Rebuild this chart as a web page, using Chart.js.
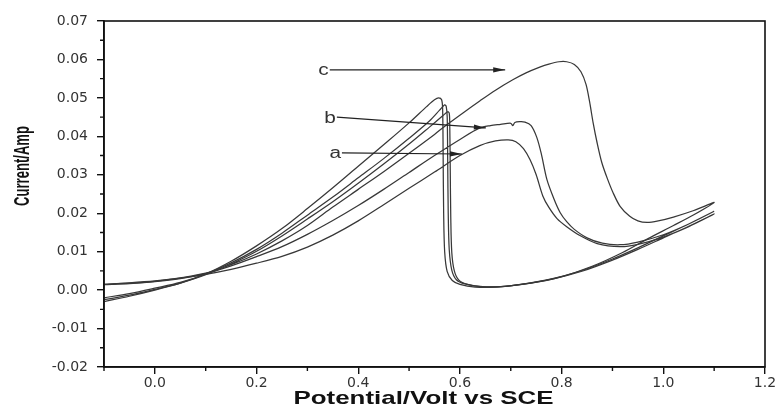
<!DOCTYPE html>
<html>
<head>
<meta charset="utf-8">
<script src="https://cdn.jsdelivr.net/npm/chart.js@4/dist/chart.umd.min.js"></script>
<style>
html,body{margin:0;padding:0;background:#fff;}
#wrap{width:779px;height:406px;}
</style>
</head>
<body>
<div id="wrap"><canvas id="cv" width="779" height="406"></canvas></div>
<script>
// ---- tick values ----
const potentialTicks = [0.0, 0.2, 0.4, 0.6, 0.8, 1.0, 1.2];
const potentialMinor = [-0.1, 0.1, 0.3, 0.5, 0.7, 0.9, 1.1];
const currentTicks = [-0.02, -0.01, 0.00, 0.01, 0.02, 0.03, 0.04, 0.05, 0.06, 0.07];
const currentMinor = [-0.015, -0.005, 0.005, 0.015, 0.025, 0.035, 0.045, 0.055, 0.065];

// ---- curve a (forward scan then reverse scan) ----
const aPotential = [-0.1,-0.05,0,0.05,0.1,0.15,0.2,0.25,0.3,0.35,0.4,0.45,0.5,0.535,0.55,0.558,0.564,0.566,0.567,0.568,0.57,0.575,0.585,0.6,0.63,0.67,0.72,0.78,0.84,0.9,0.95,1.0,1.05,1.1,
  1.05,1.0,0.95,0.915,0.87,0.836,0.81,0.791,0.775,0.763,0.75,0.738,0.725,0.71,0.695,0.67,0.639,0.6,0.55,0.5,0.45,0.4,0.35,0.3,0.25,0.2,0.15,0.1,0.05,0,-0.05,-0.1];
const aCurrent = [-0.0025,-0.0013,0.0002,0.0018,0.0042,0.0075,0.0115,0.016,0.0212,0.0266,0.0322,0.0378,0.0435,0.0478,0.0495,0.0500,0.0495,0.047,0.035,0.02,0.01,0.0048,0.0025,0.0015,0.0008,0.0008,0.0015,0.0028,0.0049,0.0078,0.0106,0.0136,0.0166,0.0198,
  0.0165,0.0138,0.0119,0.0113,0.0121,0.0142,0.0165,0.0186,0.0215,0.0245,0.030,0.0339,0.0368,0.0386,0.0391,0.0388,0.0376,0.0350,0.0307,0.0265,0.0222,0.018,0.0143,0.0112,0.0088,0.007,0.0054,0.0041,0.0031,0.0024,0.0019,0.0015];

// ---- curve b ----
const bPotential = [-0.1,-0.05,0,0.05,0.1,0.15,0.2,0.25,0.3,0.35,0.4,0.45,0.5,0.54,0.56,0.57,0.573,0.575,0.576,0.577,0.579,0.584,0.593,0.61,0.64,0.68,0.72,0.78,0.84,0.9,0.95,1.0,1.05,1.1,
  1.05,1.0,0.95,0.915,0.88,0.85,0.825,0.81,0.797,0.785,0.771,0.76,0.751,0.74,0.728,0.718,0.708,0.704,0.7,0.68,0.66,0.639,0.6,0.55,0.5,0.45,0.4,0.35,0.3,0.25,0.2,0.15,0.1,0.05,0,-0.05,-0.1];
const bCurrent = [-0.002,-0.0009,0.0005,0.002,0.0042,0.0071,0.0106,0.0148,0.0195,0.0242,0.0292,0.0342,0.0395,0.044,0.0468,0.0482,0.0478,0.045,0.033,0.02,0.0105,0.0052,0.0027,0.0016,0.0009,0.0009,0.0015,0.0029,0.0051,0.0081,0.011,0.0141,0.0172,0.0205,
  0.0172,0.0144,0.0125,0.0118,0.0122,0.0136,0.0158,0.0178,0.0202,0.0237,0.0288,0.0355,0.0398,0.0428,0.0437,0.0438,0.0436,0.0428,0.0434,0.0431,0.0428,0.0422,0.0392,0.035,0.0306,0.0262,0.022,0.0181,0.0145,0.0113,0.0087,0.0063,0.0043,0.003,0.0022,0.0017,0.0014];

// ---- curve c ----
const cPotential = [-0.1,-0.05,0,0.05,0.1,0.15,0.2,0.25,0.3,0.35,0.4,0.45,0.5,0.54,0.565,0.576,0.579,0.58,0.581,0.582,0.584,0.589,0.598,0.615,0.645,0.69,0.74,0.8,0.86,0.92,0.97,1.02,1.06,1.1,
  1.06,1.02,0.99,0.968,0.95,0.934,0.915,0.901,0.89,0.879,0.87,0.862,0.855,0.848,0.838,0.825,0.81,0.795,0.775,0.757,0.73,0.704,0.67,0.639,0.606,0.574,0.55,0.5,0.45,0.4,0.35,0.3,0.25,0.2,0.15,0.1,0.05,0,-0.05,-0.1];
const cCurrent = [-0.003,-0.0016,0.0,0.0018,0.004,0.0068,0.0101,0.0141,0.0185,0.023,0.0278,0.0328,0.038,0.0424,0.0452,0.0464,0.046,0.043,0.031,0.019,0.0098,0.005,0.0026,0.0015,0.0009,0.001,0.0018,0.0035,0.0062,0.0098,0.0134,0.0168,0.0196,0.0228,
  0.0207,0.019,0.018,0.0176,0.018,0.0192,0.0218,0.0254,0.029,0.0332,0.0382,0.0435,0.049,0.0535,0.0568,0.0587,0.0594,0.0594,0.0588,0.058,0.0565,0.0547,0.052,0.0492,0.0461,0.043,0.0405,0.0356,0.0308,0.0262,0.0216,0.0168,0.0128,0.0094,0.0066,0.0044,0.0032,0.0023,0.0018,0.0015];

// ---- arrow annotations (data coordinates) ----
const arrowNames = ['a', 'b', 'c'];
const arrowFromX = [0.368, 0.358, 0.344];
const arrowFromY = [0.0357, 0.0450, 0.0573];
const arrowToX = [0.604, 0.651, 0.689];
const arrowToY = [0.0354, 0.0422, 0.0573];

const xTitle = 'Potential/Volt vs SCE';
const yTitle = 'Current/Amp';

function pts(xs, ys) { return xs.map((x, i) => ({ x: x, y: ys[i] })); }

const lineStyle = { showLine: true, pointRadius: 0, borderColor: '#383838', borderWidth: 1.25, tension: 0.3, fill: false };

const decor = {
  id: 'decor',
  afterDatasetsDraw(chart) {
    const ctx = chart.ctx, ca = chart.chartArea, xs = chart.scales.x, ys = chart.scales.y;
    ctx.save();
    // frame
    ctx.strokeStyle = '#111';
    ctx.lineWidth = 1.6;
    ctx.strokeRect(ca.left, ca.top, ca.right - ca.left, ca.bottom - ca.top);
    // minor ticks
    ctx.lineWidth = 1.4;
    ctx.beginPath();
    potentialMinor.forEach(v => { const p = xs.getPixelForValue(v); ctx.moveTo(p, ca.bottom); ctx.lineTo(p, ca.bottom + 4); });
    currentMinor.forEach(v => { const p = ys.getPixelForValue(v); ctx.moveTo(ca.left, p); ctx.lineTo(ca.left - 4, p); });
    ctx.stroke();
    // arrows + labels
    ctx.strokeStyle = '#222';
    ctx.fillStyle = '#222';
    ctx.lineWidth = 1.2;
    arrowNames.forEach((name, i) => {
      const x1 = xs.getPixelForValue(arrowFromX[i]), y1 = ys.getPixelForValue(arrowFromY[i]);
      const x2 = xs.getPixelForValue(arrowToX[i]), y2 = ys.getPixelForValue(arrowToY[i]);
      ctx.beginPath(); ctx.moveTo(x1, y1); ctx.lineTo(x2, y2); ctx.stroke();
      const ang = Math.atan2(y2 - y1, x2 - x1), L = 12, W = 2.6;
      ctx.beginPath();
      ctx.moveTo(x2, y2);
      ctx.lineTo(x2 - L * Math.cos(ang) + W * Math.sin(ang), y2 - L * Math.sin(ang) - W * Math.cos(ang));
      ctx.lineTo(x2 - L * Math.cos(ang) - W * Math.sin(ang), y2 - L * Math.sin(ang) + W * Math.cos(ang));
      ctx.closePath(); ctx.fill();
      ctx.save();
      ctx.fillStyle = '#333';
      ctx.font = '16px "Liberation Sans", Arial, sans-serif';
      ctx.textAlign = 'right';
      ctx.textBaseline = 'middle';
      ctx.translate(x1 - 1, y1 + 1);
      ctx.scale(1.3, 1);
      ctx.fillText(name, 0, 0);
      ctx.restore();
    });
    // x title (stretched bold)
    ctx.fillStyle = '#111';
    ctx.font = 'bold 19px "Liberation Sans", Arial, sans-serif';
    let w = ctx.measureText(xTitle).width;
    ctx.save();
    ctx.translate((ca.left + ca.right) / 2 - 11, chart.height - 2);
    ctx.scale(260 / w, 1);
    ctx.textAlign = 'center';
    ctx.textBaseline = 'alphabetic';
    ctx.fillText(xTitle, 0, 0);
    ctx.restore();
    // y title (narrow, rotated)
    ctx.font = 'bold 16px "Liberation Sans", Arial, sans-serif';
    w = ctx.measureText(yTitle).width;
    ctx.save();
    ctx.translate(23, 166);
    ctx.rotate(-Math.PI / 2);
    ctx.scale(80 / w, 1.35);
    ctx.textAlign = 'center';
    ctx.textBaseline = 'middle';
    ctx.fillText(yTitle, 0, 0);
    ctx.restore();
    ctx.restore();
  }
};

const tickFont = { family: '"DejaVu Sans", sans-serif', size: 14 };

new Chart(document.getElementById('cv'), {
  type: 'scatter',
  data: {
    datasets: [
      Object.assign({ label: 'a', data: pts(aPotential, aCurrent) }, lineStyle),
      Object.assign({ label: 'b', data: pts(bPotential, bCurrent) }, lineStyle),
      Object.assign({ label: 'c', data: pts(cPotential, cCurrent) }, lineStyle)
    ]
  },
  options: {
    responsive: false,
    devicePixelRatio: 1,
    animation: false,
    layout: { padding: { top: 21, right: 14, left: 0, bottom: 0 } },
    plugins: { legend: { display: false }, tooltip: { enabled: false } },
    scales: {
      x: {
        type: 'linear', position: 'bottom', min: -0.1, max: 1.2,
        afterBuildTicks: s => { s.ticks = potentialTicks.map(v => ({ value: v })); },
        afterFit: s => { s.height = 39; },
        ticks: { font: tickFont, color: '#333', padding: 1, maxRotation: 0, autoSkip: false, callback: v => v.toFixed(1) },
        grid: { display: true, drawOnChartArea: false, drawTicks: true, tickLength: 7, color: '#111', lineWidth: 1.4 },
        border: { display: true, color: '#111', width: 1.6 }
      },
      y: {
        type: 'linear', position: 'left', min: -0.02, max: 0.07,
        afterBuildTicks: s => { s.ticks = currentTicks.map(v => ({ value: v })); },
        afterFit: s => { s.width = 104; },
        ticks: { font: tickFont, color: '#333', padding: 9, autoSkip: false, callback: v => v.toFixed(2) },
        grid: { display: true, drawOnChartArea: false, drawTicks: true, tickLength: 7, color: '#111', lineWidth: 1.4 },
        border: { display: true, color: '#111', width: 1.6 }
      }
    }
  },
  plugins: [decor]
});
</script>
</body>
</html>
